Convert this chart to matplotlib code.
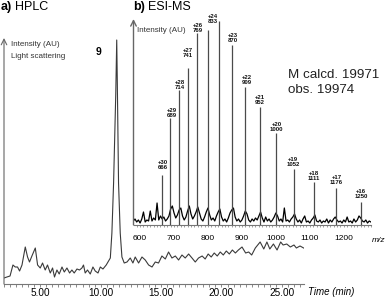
import numpy as np
import matplotlib
matplotlib.use("Agg")
import matplotlib.pyplot as plt
from matplotlib.ticker import MultipleLocator, FixedLocator

plt.rcParams['font.family'] = ['Liberation Sans', 'DejaVu Sans']

# HPLC, light scattering trace (time in min, intensity in AU)
hplc_t = [2.00, 2.24, 2.50, 2.74, 2.93, 3.12, 3.29, 3.49, 3.76, 3.95,
          4.11, 4.31, 4.59, 4.78, 5.00, 5.19, 5.41, 5.60, 5.83, 6.02,
          6.18, 6.38, 6.57, 6.80, 6.99, 7.21, 7.43, 7.62, 7.81, 8.04,
          8.25, 8.45, 8.58, 8.72, 8.91, 9.14, 9.36, 9.55, 9.78, 9.97,
          10.19, 10.46, 10.80, 10.93, 11.07, 11.25, 11.33, 11.38, 11.48, 11.62,
          11.76, 11.95, 12.18, 12.45, 12.67, 12.86, 13.14, 13.42, 13.69, 13.97,
          14.25, 14.52, 14.79, 15.07, 15.35, 15.62, 15.90, 16.18, 16.45, 16.73,
          17.00, 17.28, 17.56, 17.83, 18.10, 18.40, 18.65, 18.90, 19.15, 19.40,
          19.65, 19.90, 20.15, 20.40, 20.65, 20.90, 21.15, 21.40, 21.70, 22.00,
          22.25, 22.50, 22.80, 23.20, 23.50, 23.76, 24.00, 24.30, 24.60, 24.90,
          25.10, 25.40, 25.70, 26.00, 26.20, 26.50, 26.80]
hplc_i = [6, 7, 8, 19, 17, 17, 13, 19, 37, 27,
          22, 28, 36, 19, 16, 21, 14, 19, 11, 16,
          7, 14, 10, 17, 12, 16, 11, 14, 11, 15,
          14, 16, 19, 11, 14, 10, 17, 13, 11, 17,
          15, 19, 26, 51, 101, 190, 244, 200, 101, 51,
          27, 21, 22, 26, 21, 27, 21, 27, 24, 19,
          17, 22, 21, 28, 25, 32, 26, 28, 24, 29,
          26, 30, 26, 22, 26, 28, 25, 30, 27, 31,
          28, 32, 29, 33, 30, 34, 31, 34, 37, 31,
          32, 29, 36, 42, 35, 42, 35, 40, 34, 42,
          39, 40, 37, 39, 36, 38, 36]

# ESI-MS baseline, sampled every 5 m/z from 580 to 1280
ms_base = [4, 6, 3, 5, 2, 6, 13, 3, 5, 4,
           14, 4, 7, 5, 22, 5, 9, 6, 8, 4,
           6, 9, 16, 19, 12, 7, 10, 15, 17, 9,
           5, 8, 14, 19, 11, 6, 9, 13, 18, 12,
           6, 4, 8, 13, 17, 10, 5, 7, 4, 9,
           13, 16, 8, 4, 6, 3, 7, 12, 15, 17,
           8, 4, 6, 3, 5, 9, 14, 11, 5, 3,
           6, 4, 7, 5, 9, 13, 7, 3, 8, 4,
           6, 3, 5, 8, 12, 9, 4, 6, 3, 17,
           4, 5, 3, 6, 8, 11, 6, 3, 5, 2,
           6, 9, 3, 4, 2, 5, 7, 10, 4, 3,
           5, 2, 4, 3, 6, 2, 5, 3, 6, 8,
           5, 3, 4, 2, 5, 3, 8, 3, 4, 2,
           6, 3, 5, 9, 7, 4, 3, 5, 2, 4,
           3]
ms_mz = np.linspace(580, 1280, len(ms_base))

# charge-state peaks
peak_z = [30, 29, 28, 27, 26, 25, 24, 23, 22, 21, 20, 19, 18, 17, 16]
peak_mz = [666, 689, 714, 741, 769, 799, 833, 870, 909, 952, 1000, 1052, 1111, 1176, 1250]
peak_h = [50, 107, 135, 157, 192, 195, 204, 180, 138, 118, 92, 56, 43, 37, 23]

W, H = 391, 302
fig = plt.figure(figsize=(W / 100, H / 100), dpi=100)


def box(left, top, right, bottom):
    return [left / W, 1 - bottom / H, (right - left) / W, (bottom - top) / H]


def ftext(x, y, s, **kw):
    return fig.text(x / W, 1 - y / H, s, **kw)


# ---- a) HPLC
ax1 = fig.add_axes(box(4, 38, 304, 284))
ax1.patch.set_visible(False)
ax1.plot(hplc_t, hplc_i, color='#3a3a3a', lw=0.8)
ax1.set_xlim(2.0, 26.83)
ax1.set_ylim(0, 246)
for s in ['top', 'right', 'left']:
    ax1.spines[s].set_visible(False)
ax1.spines['bottom'].set_color('#777777')
ax1.spines['bottom'].set_linewidth(0.8)
ax1.set_yticks([])
ax1.xaxis.set_major_locator(FixedLocator([5, 10, 15, 20, 25]))
ax1.set_xticklabels(['5.00', '10.00', '15.00', '20.00', '25.00'])
ax1.xaxis.set_minor_locator(MultipleLocator(0.5))
ax1.tick_params(axis='x', which='both', direction='out', length=2.2, width=0.6,
                color='#777777', pad=0.8, labelsize=7.2)
ax1.annotate('', xy=(0, 1), xytext=(0, 0), xycoords='axes fraction',
             arrowprops=dict(arrowstyle='->', color='#666666', lw=0.8,
                             shrinkA=0, shrinkB=0))

# ---- b) ESI-MS inset
ax2 = fig.add_axes(box(133.5, 19, 371, 225))
ax2.patch.set_visible(False)
ax2.plot(ms_mz, ms_base, color='black', lw=0.9)
ax2.vlines(peak_mz, 0, peak_h, color='#4a4a4a', lw=0.9)
ax2.set_xlim(580.6, 1280.3)
ax2.set_ylim(0, 206)
for s in ['top', 'right', 'left']:
    ax2.spines[s].set_visible(False)
ax2.spines['bottom'].set_color('#777777')
ax2.spines['bottom'].set_linewidth(0.8)
ax2.set_yticks([])
ax2.set_xticks([600, 700, 800, 900, 1000, 1100, 1200])
ax2.xaxis.set_minor_locator(MultipleLocator(10))
ax2.tick_params(axis='x', which='both', direction='out', length=1.5, width=0.5,
                color='#777777', pad=6.0, labelsize=6.0)
ax2.annotate('', xy=(0, 1), xytext=(0, 0), xycoords='axes fraction',
             arrowprops=dict(arrowstyle='->', color='#666666', lw=1.0,
                             shrinkA=0, shrinkB=0))

# label anchor (m/z, bottom of text) for each labelled peak
lab_pos = {30: (667.5, 55.5), 29: (693, 107.5), 28: (717.6, 135.5), 27: (741.2, 167),
           26: (769, 192.5), 24: (814, 201.5), 23: (873, 181.8), 22: (914, 139.8),
           21: (953, 119.8), 20: (1002.5, 93.2), 19: (1051, 58.5), 18: (1112, 44.2),
           17: (1179, 40.2), 16: (1251, 25.8)}
for z, mz in zip(peak_z, peak_mz):
    if z not in lab_pos:
        continue
    x, y = lab_pos[z]
    ax2.text(x, y, f'+{z}\n{mz}', ha='center', va='bottom', fontsize=4.3,
             fontweight='bold', linespacing=1.0, color='#111111')

# ---- texts
t = ftext(1, 7, 'a)', fontsize=9, fontweight='bold', va='center')
r = fig.canvas.get_renderer()
bb = t.get_window_extent(r)
fig.text((bb.x1 + 3) / W, 1 - 7 / H, 'HPLC', fontsize=9, va='center')
t = ftext(133, 7, 'b)', fontsize=9, fontweight='bold', va='center')
bb = t.get_window_extent(r)
fig.text((bb.x1 + 3) / W, 1 - 7 / H, 'ESI-MS', fontsize=9, va='center')

ftext(11, 45, 'Intensity (AU)', fontsize=5.8, va='center', color='#333333')
ftext(11, 57, 'Light scattering', fontsize=5.8, va='center', color='#333333')
ftext(137, 31, 'Intensity (AU)', fontsize=5.8, va='center', color='#333333')
ftext(98, 52.5, '9', fontsize=7.5, fontweight='bold', ha='center', va='center')
ftext(288, 75, 'M calcd. 19971', fontsize=9.6, va='center', color='#222222')
ftext(288, 90, 'obs. 19974', fontsize=9.6, va='center', color='#222222')
ftext(372, 240, 'm/z', fontsize=6, style='italic', va='center')
ftext(308, 292, 'Time (min)', fontsize=7, style='italic', va='center')

fig.savefig('out.png', dpi=100)
